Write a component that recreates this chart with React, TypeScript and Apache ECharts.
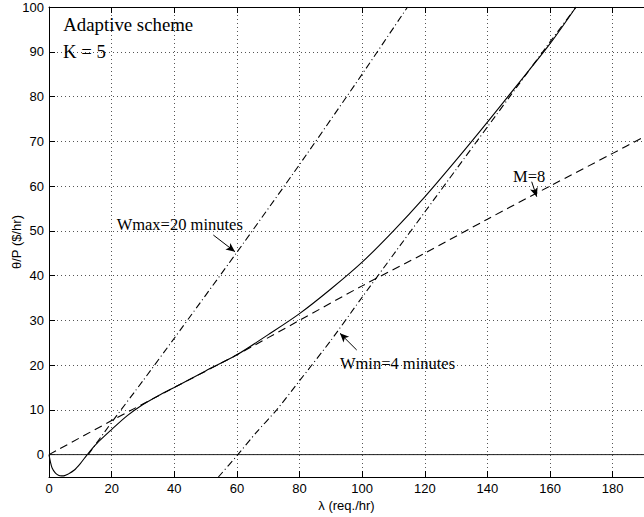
import React, { useEffect, useRef } from "react";
import * as echarts from "echarts";

// ---- data ----
const xRange = [0, 190];
const yRange = [-5, 100];

// Adaptive scheme, K = 5 (solid)
const adaptiveCurve: [number, number][] = [
  [0, 0], [0.5, -1.8], [1, -3], [2, -4.1], [3, -4.6], [4, -4.75], [5, -4.7],
  [6, -4.4], [8, -3.5], [10, -2], [12.2, 0], [15, 2.3], [20, 5.6], [25, 8.7],
  [30, 11.2], [35, 13.2], [40, 15], [50, 18.7], [60, 22.3], [70, 26.8], [80, 31.5],
  [90, 37], [100, 43], [110, 50], [120, 57.6], [130, 65.8], [140, 74.3],
  [150, 83], [160, 91.8], [168.3, 100],
];

// M = 8 (dashed)
const fixedM8: [number, number][] = [
  [0, 0], [20, 7.6], [40, 15], [60, 22.3], [80, 30], [100, 37.7], [120, 45],
  [140, 52.6], [160, 60], [180, 67.3], [190, 71],
];

// Wmax = 20 minutes (dash-dot)
const wmax20: [number, number][] = [
  [12.5, 0], [20, 7.2], [30, 16.5], [40, 26], [60, 45.2], [80, 64.8],
  [100, 85], [114.5, 100],
];

// Wmin = 4 minutes (dash-dot)
const wmin4: [number, number][] = [
  [54.1, -5], [60.3, 0], [66, 4.8], [72.7, 10], [80, 16.5], [90, 25.5],
  [99.2, 34.4], [110, 44.7], [120, 54.2], [130, 63.7], [140, 73.2],
  [150, 82.7], [160, 92.2], [168.3, 100],
];

const zeroLine: [number, number][] = [[0, 0], [190, 0]];

// annotation texts: [text, x, y, fontSize]
const noteTexts: [string, number, number, number][] = [
  ["Adaptive scheme", 4.57, 96.2, 18.8],
  ["K = 5", 4.47, 90.17, 18.8],
  ["Wmax=20 minutes", 21.6, 51.3, 16.5],
  ["Wmin=4 minutes", 92.9, 20.35, 16.5],
  ["M=8", 148.2, 62.13, 16.5],
];

// arrows: from -> to (data coords)
const arrowWmax: [number, number][] = [[52.47, 49.06], [59.39, 45.33]];
const arrowWmin: [number, number][] = [[98.26, 23.37], [92.92, 27.1]];
const arrowM8: [number, number][] = [[154.14, 60.97], [155.74, 57.62]];

const SANS = "Liberation Sans, Arial, Helvetica, sans-serif";
const SERIF = "Liberation Serif, Times New Roman, serif";

function arrowMark(pts: [number, number][]) {
  return {
    silent: true,
    symbol: ["none", "arrow"],
    symbolSize: [6, 9],
    label: { show: false },
    lineStyle: { color: "#000", width: 1, type: "solid" },
    emphasis: { disabled: true },
    data: [[{ coord: pts[0] }, { coord: pts[1] }]],
  };
}

export default function App() {
  const ref = useRef<HTMLDivElement>(null);

  useEffect(() => {
    if (!ref.current) return;
    const chart = echarts.init(ref.current, undefined, { renderer: "svg" });

    const axisLineStyle = { color: "#000", width: 1 };
    const option: any = {
      animation: false,
      backgroundColor: "#fff",
      grid: {
        left: 49,
        right: 0,
        top: 7,
        bottom: 40,
        containLabel: false,
        outerBoundsMode: "none",
      },
      xAxis: [
        {
          type: "value",
          min: xRange[0],
          max: xRange[1],
          interval: 20,
          name: "λ (req./hr)",
          nameLocation: "middle",
          nameGap: 22,
          nameMoveOverlap: false,
          nameTextStyle: { fontFamily: SANS, fontSize: 13, color: "#000" },
          axisLine: { show: true, onZero: false, lineStyle: axisLineStyle },
          axisTick: { show: true, inside: true, length: 6, lineStyle: axisLineStyle },
          axisLabel: {
            show: true,
            margin: 5,
            fontFamily: SANS,
            fontSize: 13,
            color: "#000",
            showMaxLabel: false,
          },
          splitLine: {
            show: true,
            lineStyle: { color: "#555", width: 1, type: [1, 3] },
          },
        },
        {
          type: "value",
          position: "top",
          min: xRange[0],
          max: xRange[1],
          interval: 20,
          axisLine: { show: true, onZero: false, lineStyle: axisLineStyle },
          axisTick: { show: true, inside: true, length: 6, lineStyle: axisLineStyle },
          axisLabel: { show: false },
          splitLine: { show: false },
        },
      ],
      yAxis: {
        type: "value",
        min: yRange[0],
        max: yRange[1],
        splitNumber: 10,
        minInterval: 10,
        maxInterval: 10,
        name: "θ/P ($/hr)",
        nameLocation: "middle",
        nameGap: 26,
        nameMoveOverlap: false,
        nameRotate: 90,
        nameTextStyle: { fontFamily: SANS, fontSize: 13, color: "#000" },
        axisLine: { show: true, onZero: false, lineStyle: axisLineStyle },
        axisTick: { show: true, inside: true, length: 6, lineStyle: axisLineStyle },
        axisLabel: {
          show: true,
          margin: 5,
          fontFamily: SANS,
          fontSize: 13,
          color: "#000",
          showMinLabel: false,
        },
        splitLine: {
          show: true,
          lineStyle: { color: "#555", width: 1, type: [1, 3] },
        },
      },
      series: [
        {
          type: "line",
          data: zeroLine,
          showSymbol: false,
          silent: true,
          lineStyle: { color: "#222", width: 1 },
        },
        {
          type: "line",
          name: "Adaptive",
          data: adaptiveCurve,
          showSymbol: false,
          smooth: 0.3,
          silent: true,
          lineStyle: { color: "#000", width: 1.1 },
        },
        {
          type: "line",
          name: "M=8",
          data: fixedM8,
          showSymbol: false,
          smooth: 0.3,
          silent: true,
          lineStyle: { color: "#000", width: 1.1, type: [8, 5] },
          markLine: arrowMark(arrowM8),
        },
        {
          type: "line",
          name: "Wmax",
          data: wmax20,
          showSymbol: false,
          smooth: 0.2,
          silent: true,
          lineStyle: { color: "#000", width: 1.1, type: [7, 3, 1, 3] },
          markLine: arrowMark(arrowWmax),
        },
        {
          type: "line",
          name: "Wmin",
          data: wmin4,
          showSymbol: false,
          smooth: 0.2,
          silent: true,
          lineStyle: { color: "#000", width: 1.1, type: [7, 3, 1, 3] },
          markLine: arrowMark(arrowWmin),
        },
      ],
    };
    chart.setOption(option);

    const graphic = noteTexts.map(([text, x, y, size]) => {
      const p = chart.convertToPixel({ xAxisIndex: 0, yAxisIndex: 0 }, [x, y]) as number[];
      return {
        type: "text",
        x: p[0],
        y: p[1],
        silent: true,
        style: {
          text,
          fontFamily: SERIF,
          fontSize: size,
          fill: "#000",
          textAlign: "left",
          textVerticalAlign: "middle",
          verticalAlign: "middle",
        },
      };
    });
    chart.setOption({ graphic });

    return () => chart.dispose();
  }, []);

  return (
    <div
      ref={ref}
      style={{ position: "fixed", left: 0, top: 0, width: 644, height: 517, background: "#fff" }}
    />
  );
}
